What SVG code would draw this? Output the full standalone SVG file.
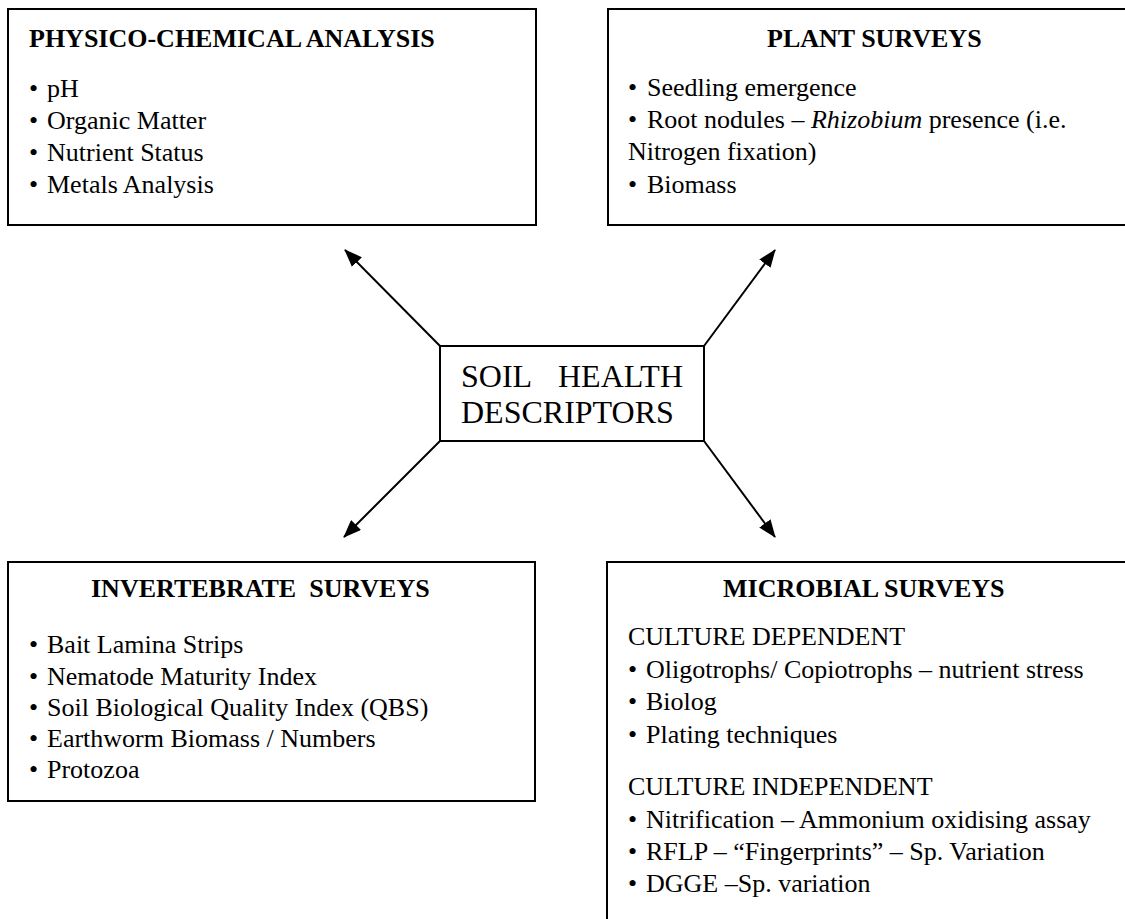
<svg xmlns="http://www.w3.org/2000/svg" width="1125" height="919" viewBox="0 0 1125 919">
<style>
.box{fill:#fff;stroke:#000;stroke-width:2}
.t{font-family:"Liberation Serif","Times New Roman",serif;font-size:26px;fill:#000}
.h{font-weight:bold}
.c{font-family:"Liberation Serif","Times New Roman",serif;font-size:32px;fill:#000}
.con{stroke:#000;stroke-width:2;fill:none;marker-end:url(#ah)}
</style>
<defs>
<marker id="ah" markerUnits="userSpaceOnUse" markerWidth="18" markerHeight="14" refX="17" refY="7" orient="auto">
<path d="M0,0 L18,7 L0,14 z" fill="#000"/>
</marker>
</defs>
<rect width="1125" height="919" fill="#fff"/>
<g id="physico">
<rect class="box" x="8" y="9" width="528" height="216"/>
<text class="t h" x="29" y="47">PHYSICO-CHEMICAL ANALYSIS</text>
<text class="t"><tspan x="29" y="97">•</tspan><tspan x="47" y="97">pH</tspan></text>
<text class="t"><tspan x="29" y="129">•</tspan><tspan x="47" y="129">Organic Matter</tspan></text>
<text class="t"><tspan x="29" y="161">•</tspan><tspan x="47" y="161">Nutrient Status</tspan></text>
<text class="t"><tspan x="29" y="193">•</tspan><tspan x="47" y="193">Metals Analysis</tspan></text>
</g>
<g id="plant">
<rect class="box" x="608" y="9" width="530" height="216"/>
<text class="t h" x="767" y="47">PLANT SURVEYS</text>
<text class="t"><tspan x="628" y="96">•</tspan><tspan x="647" y="96">Seedling emergence</tspan></text>
<text class="t"><tspan x="628" y="128">•</tspan><tspan x="647" y="128">Root nodules – <tspan font-style="italic">Rhizobium</tspan> presence (i.e.</tspan></text>
<text class="t" x="628" y="160">Nitrogen fixation)</text>
<text class="t"><tspan x="628" y="193">•</tspan><tspan x="647" y="193">Biomass</tspan></text>
</g>
<g id="center">
<rect class="box" x="440" y="346" width="264" height="95"/>
<text class="c" x="461" y="387">SOIL</text>
<text class="c" x="683" y="387" text-anchor="end">HEALTH</text>
<text class="c" x="461" y="423">DESCRIPTORS</text>
</g>
<g id="invertebrate">
<rect class="box" x="8" y="562" width="527" height="239"/>
<text class="t h" x="91" y="597" xml:space="preserve">INVERTEBRATE  SURVEYS</text>
<text class="t"><tspan x="29" y="653">•</tspan><tspan x="47" y="653">Bait Lamina Strips</tspan></text>
<text class="t"><tspan x="29" y="685">•</tspan><tspan x="47" y="685">Nematode Maturity Index</tspan></text>
<text class="t"><tspan x="29" y="716">•</tspan><tspan x="47" y="716">Soil Biological Quality Index (QBS)</tspan></text>
<text class="t"><tspan x="29" y="747">•</tspan><tspan x="47" y="747">Earthworm Biomass / Numbers</tspan></text>
<text class="t"><tspan x="29" y="778">•</tspan><tspan x="47" y="778">Protozoa</tspan></text>
</g>
<g id="microbial">
<rect class="box" x="607" y="562" width="530" height="370"/>
<text class="t h" x="723" y="597">MICROBIAL SURVEYS</text>
<text class="t" x="628" y="645">CULTURE DEPENDENT</text>
<text class="t"><tspan x="628" y="678">•</tspan><tspan x="646" y="678">Oligotrophs/ Copiotrophs – nutrient stress</tspan></text>
<text class="t"><tspan x="628" y="710">•</tspan><tspan x="646" y="710">Biolog</tspan></text>
<text class="t"><tspan x="628" y="743">•</tspan><tspan x="646" y="743">Plating techniques</tspan></text>
<text class="t" x="628" y="795">CULTURE INDEPENDENT</text>
<text class="t"><tspan x="628" y="828">•</tspan><tspan x="646" y="828">Nitrification – Ammonium oxidising assay</tspan></text>
<text class="t"><tspan x="628" y="860">•</tspan><tspan x="646" y="860">RFLP – “Fingerprints” – Sp. Variation</tspan></text>
<text class="t"><tspan x="628" y="892">•</tspan><tspan x="646" y="892">DGGE –Sp. variation</tspan></text>
</g>
<g id="connectors">
<line class="con" x1="440" y1="346" x2="345" y2="250"/>
<line class="con" x1="704" y1="346" x2="775" y2="250"/>
<line class="con" x1="440" y1="441" x2="344" y2="537"/>
<line class="con" x1="704" y1="441" x2="775" y2="537"/>
</g>
</svg>
